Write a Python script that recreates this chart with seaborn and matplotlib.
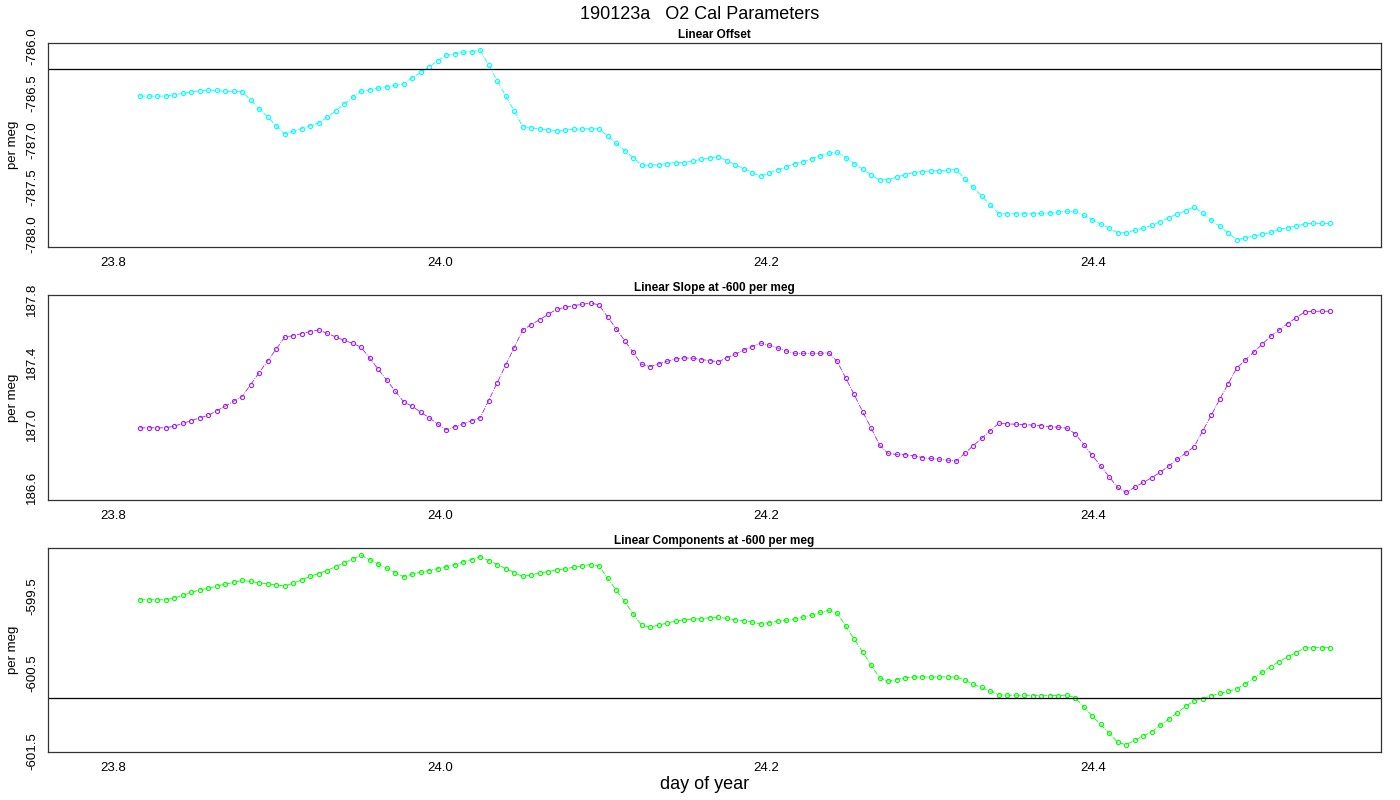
import numpy as np
import pandas as pd
import seaborn as sns
import matplotlib
matplotlib.use('Agg')
import matplotlib.pyplot as plt

# sampling: first sample and 7.5 minute step
t0 = 23.8163
step = 7.5 / 1440.0

offset = [
    -786.532, -786.532, -786.532, -786.532, -786.518, -786.504, -786.489, -786.475, -786.468, -786.472,
    -786.479, -786.482, -786.486, -786.574, -786.667, -786.755, -786.848, -786.936, -786.908, -786.879,
    -786.848, -786.819, -786.759, -786.688, -786.617, -786.546, -786.479, -786.465, -786.447, -786.433,
    -786.418, -786.401, -786.337, -786.280, -786.220, -786.156, -786.096, -786.082, -786.067, -786.057,
    -786.043, -786.202, -786.369, -786.528, -786.688, -786.858, -786.869, -786.883, -786.890, -786.901,
    -786.894, -786.887, -786.883, -786.879, -786.883, -786.957, -787.035, -787.113, -787.188, -787.266,
    -787.270, -787.262, -787.252, -787.241, -787.241, -787.227, -787.206, -787.191, -787.177, -787.220,
    -787.262, -787.305, -787.348, -787.387, -787.355, -787.319, -787.287, -787.252, -787.230, -787.202,
    -787.170, -787.142, -787.131, -787.188, -787.252, -787.312, -787.372, -787.429, -787.422, -787.397,
    -787.369, -787.348, -787.337, -787.330, -787.326, -787.323, -787.316, -787.415, -787.507, -787.599,
    -787.691, -787.787, -787.787, -787.787, -787.787, -787.787, -787.784, -787.777, -787.770, -787.762,
    -787.762, -787.805, -787.851, -787.897, -787.943, -787.989, -787.989, -787.965, -787.940, -787.911,
    -787.872, -787.830, -787.791, -787.755, -787.713, -787.784, -787.855, -787.922, -787.993, -788.064,
    -788.043, -788.025, -788.007, -787.986, -787.954, -787.936, -787.918, -787.894, -787.890, -787.890,
    -787.890,
]

slope = [
    186.981, 186.981, 186.981, 186.981, 186.991, 187.009, 187.026, 187.045, 187.060, 187.089,
    187.119, 187.151, 187.181, 187.257, 187.332, 187.409, 187.483, 187.560, 187.570, 187.583,
    187.596, 187.606, 187.585, 187.562, 187.540, 187.521, 187.496, 187.426, 187.355, 187.287,
    187.217, 187.147, 187.119, 187.081, 187.045, 187.006, 186.968, 186.987, 187.006, 187.026,
    187.045, 187.155, 187.268, 187.381, 187.494, 187.606, 187.640, 187.672, 187.706, 187.738,
    187.751, 187.762, 187.770, 187.779, 187.766, 187.689, 187.615, 187.538, 187.464, 187.387,
    187.372, 187.389, 187.406, 187.421, 187.428, 187.426, 187.417, 187.411, 187.402, 187.428,
    187.451, 187.477, 187.500, 187.523, 187.509, 187.491, 187.472, 187.457, 187.457, 187.457,
    187.457, 187.460, 187.406, 187.300, 187.194, 187.085, 186.979, 186.870, 186.817, 186.811,
    186.809, 186.802, 186.791, 186.785, 186.781, 186.774, 186.768, 186.817, 186.866, 186.913,
    186.962, 187.009, 187.006, 187.004, 187.002, 186.998, 186.994, 186.989, 186.985, 186.979,
    186.943, 186.874, 186.806, 186.738, 186.668, 186.600, 186.568, 186.600, 186.632, 186.662,
    186.696, 186.736, 186.779, 186.819, 186.860, 186.960, 187.060, 187.162, 187.262, 187.362,
    187.413, 187.464, 187.515, 187.566, 187.606, 187.647, 187.685, 187.721, 187.726, 187.726,
    187.726,
]

components = [
    -599.551, -599.551, -599.551, -599.551, -599.526, -599.496, -599.457, -599.423, -599.402, -599.376,
    -599.350, -599.329, -599.303, -599.316, -599.333, -599.346, -599.359, -599.376, -599.338, -599.295,
    -599.252, -599.214, -599.175, -599.124, -599.077, -599.026, -598.979, -599.034, -599.090, -599.145,
    -599.201, -599.256, -599.222, -599.197, -599.175, -599.150, -599.124, -599.098, -599.064, -599.034,
    -598.996, -599.047, -599.098, -599.150, -599.201, -599.252, -599.231, -599.209, -599.188, -599.167,
    -599.154, -599.132, -599.115, -599.098, -599.115, -599.274, -599.423, -599.573, -599.731, -599.880,
    -599.902, -599.876, -599.850, -599.825, -599.808, -599.799, -599.795, -599.782, -599.774, -599.791,
    -599.808, -599.821, -599.838, -599.863, -599.846, -599.825, -599.816, -599.799, -599.774, -599.748,
    -599.714, -599.688, -599.722, -599.889, -600.056, -600.222, -600.389, -600.556, -600.598, -600.577,
    -600.556, -600.543, -600.543, -600.543, -600.543, -600.543, -600.543, -600.581, -600.637, -600.679,
    -600.726, -600.774, -600.778, -600.778, -600.778, -600.782, -600.786, -600.782, -600.782, -600.778,
    -600.808, -600.927, -601.043, -601.154, -601.265, -601.385, -601.415, -601.359, -601.303, -601.248,
    -601.167, -601.085, -601.004, -600.923, -600.850, -600.821, -600.786, -600.756, -600.726, -600.697,
    -600.632, -600.556, -600.483, -600.410, -600.346, -600.286, -600.231, -600.171, -600.167, -600.167,
    -600.167,
]

panel_titles = ['Linear Offset', 'Linear Slope at -600 per meg', 'Linear Components at -600 per meg']
panel_colors = ['#00FFFF', '#A020F0', '#00FF00']
ref_lines = [-786.245, None, -600.808]
ytick_sets = [
    ([-788.0, -787.5, -787.0, -786.5, -786.0], ['-788.0', '-787.5', '-787.0', '-786.5', '-786.0']),
    ([186.6, 186.8, 187.0, 187.2, 187.4, 187.6, 187.8], ['186.6', '', '187.0', '', '187.4', '', '187.8']),
    ([-601.5, -601.0, -600.5, -600.0, -599.5, -599.0], ['-601.5', '', '-600.5', '', '-599.5', '']),
]
xticks = [23.8, 24.0, 24.2, 24.4]
xlim = (23.7597, 24.5767)

sns.set_style('white')
plt.rcParams['font.family'] = ['Liberation Sans', 'DejaVu Sans']
plt.rcParams['text.color'] = 'black'
plt.rcParams['axes.labelcolor'] = 'black'
plt.rcParams['xtick.color'] = 'black'
plt.rcParams['ytick.color'] = 'black'

fig = plt.figure(figsize=(14, 8), dpi=100)
bottoms = [0.6909, 0.375, 0.0596]

for k, vals in enumerate([offset, slope, components]):
    ax = fig.add_axes([0.0341, bottoms[k], 0.9524, 0.2558])
    df = pd.DataFrame({'day': t0 + np.arange(len(vals)) * step, 'value': vals})
    sns.lineplot(data=df, x='day', y='value', ax=ax, color=panel_colors[k],
                 linestyle='-.', linewidth=0.6, marker='o', markersize=3.0,
                 markerfacecolor='none', markeredgecolor=panel_colors[k],
                 markeredgewidth=0.8)
    if ref_lines[k] is not None:
        ax.axhline(ref_lines[k], color='black', linewidth=0.9)
    lo, hi = min(vals), max(vals)
    pad = 0.04 * (hi - lo)
    ax.set_ylim(lo - pad, hi + pad)
    ax.set_xlim(*xlim)
    ax.set_xticks(xticks)
    ax.set_xticklabels(['%.1f' % t for t in xticks])
    ax.set_yticks(ytick_sets[k][0])
    ax.set_yticklabels(ytick_sets[k][1], rotation=90, va='center')
    ax.tick_params(axis='both', direction='out', length=4, width=0.8,
                   labelsize=9.5, pad=3, color='black', labelcolor='black')
    ax.tick_params(axis='y', pad=3)
    ax.set_xlabel('')
    ax.set_ylabel('per meg', fontsize=9.5, color='black')
    ax.yaxis.set_label_coords(-0.0215, 0.5)
    ax.set_title(panel_titles[k], fontsize=8.5, fontweight='bold', pad=3, color='black')
    for s in ax.spines.values():
        s.set_color('#333333')
        s.set_linewidth(0.9)

fig.text(0.5, 0.982, '190123a   O2 Cal Parameters', ha='center', va='center', fontsize=13)
fig.text(0.503, 0.019, 'day of year', ha='center', va='center', fontsize=13)

fig.savefig('out.png', dpi=100)
